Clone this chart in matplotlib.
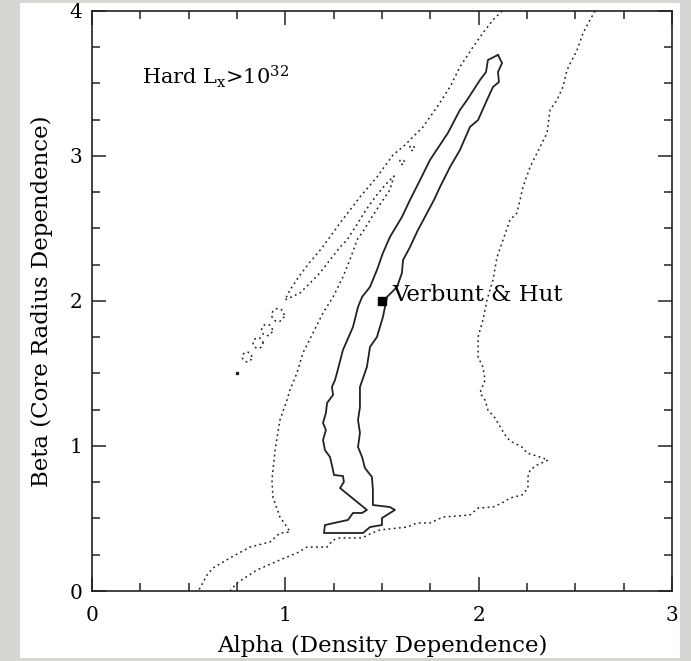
import numpy as np
import matplotlib.pyplot as plt
from matplotlib.patches import Rectangle

# solid contour (closed loop), alpha / beta
solid_alpha = [2.100, 2.121, 2.100, 2.105, 2.074, 2.043, 1.997, 1.955, 1.903, 1.852,
               1.800, 1.769, 1.722, 1.686, 1.645, 1.609, 1.603, 1.578, 1.526, 1.505,
               1.474, 1.438, 1.422, 1.386, 1.386, 1.386, 1.376, 1.386, 1.376, 1.397,
               1.412, 1.448, 1.453, 1.453, 1.541, 1.567, 1.500, 1.500, 1.438, 1.402,
               1.200, 1.205, 1.324, 1.350, 1.397, 1.422, 1.283, 1.303, 1.298, 1.252,
               1.241, 1.231, 1.205, 1.195, 1.210, 1.195, 1.210, 1.216, 1.247, 1.241,
               1.257, 1.267, 1.298, 1.350, 1.376, 1.397, 1.438, 1.474, 1.505, 1.541,
               1.603, 1.645, 1.697, 1.748, 1.841, 1.903, 1.940, 2.007, 2.038, 2.048, 2.100]
solid_beta = [3.697, 3.641, 3.579, 3.510, 3.476, 3.386, 3.248, 3.200, 3.041, 2.924,
              2.786, 2.697, 2.579, 2.490, 2.372, 2.283, 2.193, 2.097, 2.028, 1.890,
              1.752, 1.683, 1.545, 1.407, 1.366, 1.269, 1.179, 1.090, 0.993, 0.924,
              0.848, 0.786, 0.697, 0.593, 0.579, 0.559, 0.503, 0.455, 0.441, 0.400,
              0.400, 0.455, 0.490, 0.538, 0.538, 0.559, 0.710, 0.752, 0.793, 0.800,
              0.869, 0.924, 0.972, 1.041, 1.110, 1.159, 1.228, 1.297, 1.352, 1.407,
              1.455, 1.503, 1.662, 1.821, 1.959, 2.028, 2.097, 2.214, 2.331, 2.441,
              2.579, 2.697, 2.834, 2.972, 3.159, 3.317, 3.386, 3.524, 3.579, 3.662, 3.697]

# dotted contour, left branch (top edge -> finger -> notch -> bottom edge)
left_alpha = [2.121, 2.074, 2.022, 1.971, 1.903, 1.852, 1.785, 1.712, 1.660, 1.619,
              1.557, 1.474, 1.386, 1.283, 1.190, 1.128, 1.076, 1.024, 0.998,
              1.076, 1.128, 1.179, 1.231, 1.283, 1.319, 1.366, 1.417, 1.469, 1.521, 1.562,
              1.541, 1.495, 1.448, 1.407, 1.371, 1.334, 1.298, 1.247, 1.195, 1.143,
              1.091, 1.060, 1.024, 1.009, 0.972, 0.947, 0.931, 0.936, 0.972, 1.009,
              1.024, 0.972, 0.921, 0.817, 0.714, 0.626, 0.595, 0.559, 0.548]
left_beta = [4.000, 3.938, 3.848, 3.752, 3.614, 3.476, 3.338, 3.200, 3.131, 3.076,
             3.007, 2.855, 2.717, 2.538, 2.366, 2.269, 2.179, 2.076, 2.007,
             2.055, 2.124, 2.193, 2.283, 2.372, 2.421, 2.517, 2.628, 2.724, 2.807, 2.862,
             2.766, 2.676, 2.579, 2.490, 2.421, 2.283, 2.166, 2.028, 1.917, 1.779,
             1.641, 1.503, 1.386, 1.317, 1.179, 0.972, 0.766, 0.648, 0.510, 0.441,
             0.407, 0.400, 0.338, 0.303, 0.228, 0.159, 0.110, 0.021, 0.000]

# dotted contour, right branch (top edge -> spike -> bottom edge)
right_alpha = [2.602, 2.576, 2.540, 2.509, 2.457, 2.436, 2.405, 2.369, 2.354, 2.302,
               2.266, 2.229, 2.214, 2.198, 2.162, 2.126, 2.095, 2.074, 2.043, 2.022,
               1.997, 1.997, 2.022, 2.033, 2.007, 2.033, 2.048, 2.085, 2.121, 2.147,
               2.172, 2.224, 2.250, 2.317, 2.359, 2.302, 2.266, 2.255, 2.255, 2.224,
               2.162, 2.121, 2.074, 1.997, 1.955, 1.816, 1.748, 1.681, 1.629, 1.490,
               1.448, 1.397, 1.283, 1.247, 1.216, 1.112, 1.060, 0.972, 0.853, 0.750, 0.714]
right_beta = [4.000, 3.938, 3.848, 3.731, 3.593, 3.476, 3.386, 3.317, 3.159, 3.021,
              2.924, 2.786, 2.697, 2.607, 2.559, 2.421, 2.303, 2.145, 2.007, 1.869,
              1.752, 1.614, 1.545, 1.455, 1.366, 1.317, 1.248, 1.193, 1.110, 1.055,
              1.028, 0.993, 0.952, 0.924, 0.903, 0.869, 0.834, 0.786, 0.710, 0.662,
              0.641, 0.607, 0.579, 0.572, 0.524, 0.510, 0.469, 0.469, 0.441, 0.421,
              0.400, 0.366, 0.366, 0.352, 0.303, 0.303, 0.262, 0.214, 0.145, 0.055, 0.000]

# small dotted islands along the finger: centre alpha, centre beta, size
island_alpha = [0.962, 0.905, 0.859, 0.802, 1.603, 1.655]
island_beta = [1.903, 1.800, 1.710, 1.614, 2.959, 3.055]
island_size = [0.032, 0.028, 0.026, 0.024, 0.012, 0.012]
end_dot = (0.750, 1.503)

vh_point = (1.5, 2.0)

plt.rcParams['font.family'] = 'DejaVu Serif'
plt.rcParams['mathtext.fontset'] = 'dejavuserif'

fig = plt.figure(figsize=(6.91, 6.61), dpi=100, facecolor='#d8d6d2')
fig.patches.append(Rectangle((0.029, 0.0045), 0.955, 0.991, transform=fig.transFigure,
                             facecolor='white', edgecolor='none', zorder=-10))
ax = fig.add_axes([0.1331, 0.1059, 0.8394, 0.8775])
ax.set_facecolor('white')

dot = dict(color='#222222', lw=1.1, ls=(0, (1.2, 2.2)))
ax.plot(solid_alpha, solid_beta, color='#222222', lw=1.3)
ax.plot(left_alpha, left_beta, **dot)
ax.plot(right_alpha, right_beta, **dot)
t = np.linspace(0, 2 * np.pi, 20)
for a, b, s in zip(island_alpha, island_beta, island_size):
    ax.plot(a + s * np.cos(t), b + 1.4 * s * np.sin(t), **dot)
ax.plot(*end_dot, marker='s', ms=1.5, color='#222222')

ax.plot(*vh_point, marker='s', ms=6, color='black', zorder=5)
ax.text(1.555, 2.04, 'Verbunt & Hut', fontsize=16.5, va='center', ha='left')
ax.text(0.26, 3.545, r'Hard L$_\mathrm{x}$>10$^{32}$', fontsize=15, va='center', ha='left')

ax.set_xlim(0, 3)
ax.set_ylim(0, 4)
ax.set_xticks([0, 1, 2, 3])
ax.set_yticks([0, 1, 2, 3, 4])
ax.set_xticks(np.arange(0, 3.01, 0.25), minor=True)
ax.set_yticks(np.arange(0, 4.01, 0.25), minor=True)
ax.tick_params(which='both', direction='in', top=True, right=True, width=1.1,
               labelsize=14.5, color='#222222')
ax.tick_params(which='major', length=10)
ax.tick_params(which='minor', length=5.5)
ax.tick_params(axis='x', pad=11)
ax.tick_params(axis='y', pad=7)
for sp in ax.spines.values():
    sp.set_linewidth(1.2)
    sp.set_color('#222222')

ax.set_xlabel('Alpha (Density Dependence)', fontsize=16.5, labelpad=7)
ax.set_ylabel('Beta (Core Radius Dependence)', fontsize=16.5, labelpad=12)

fig.savefig('out.png', dpi=100, facecolor=fig.get_facecolor())
